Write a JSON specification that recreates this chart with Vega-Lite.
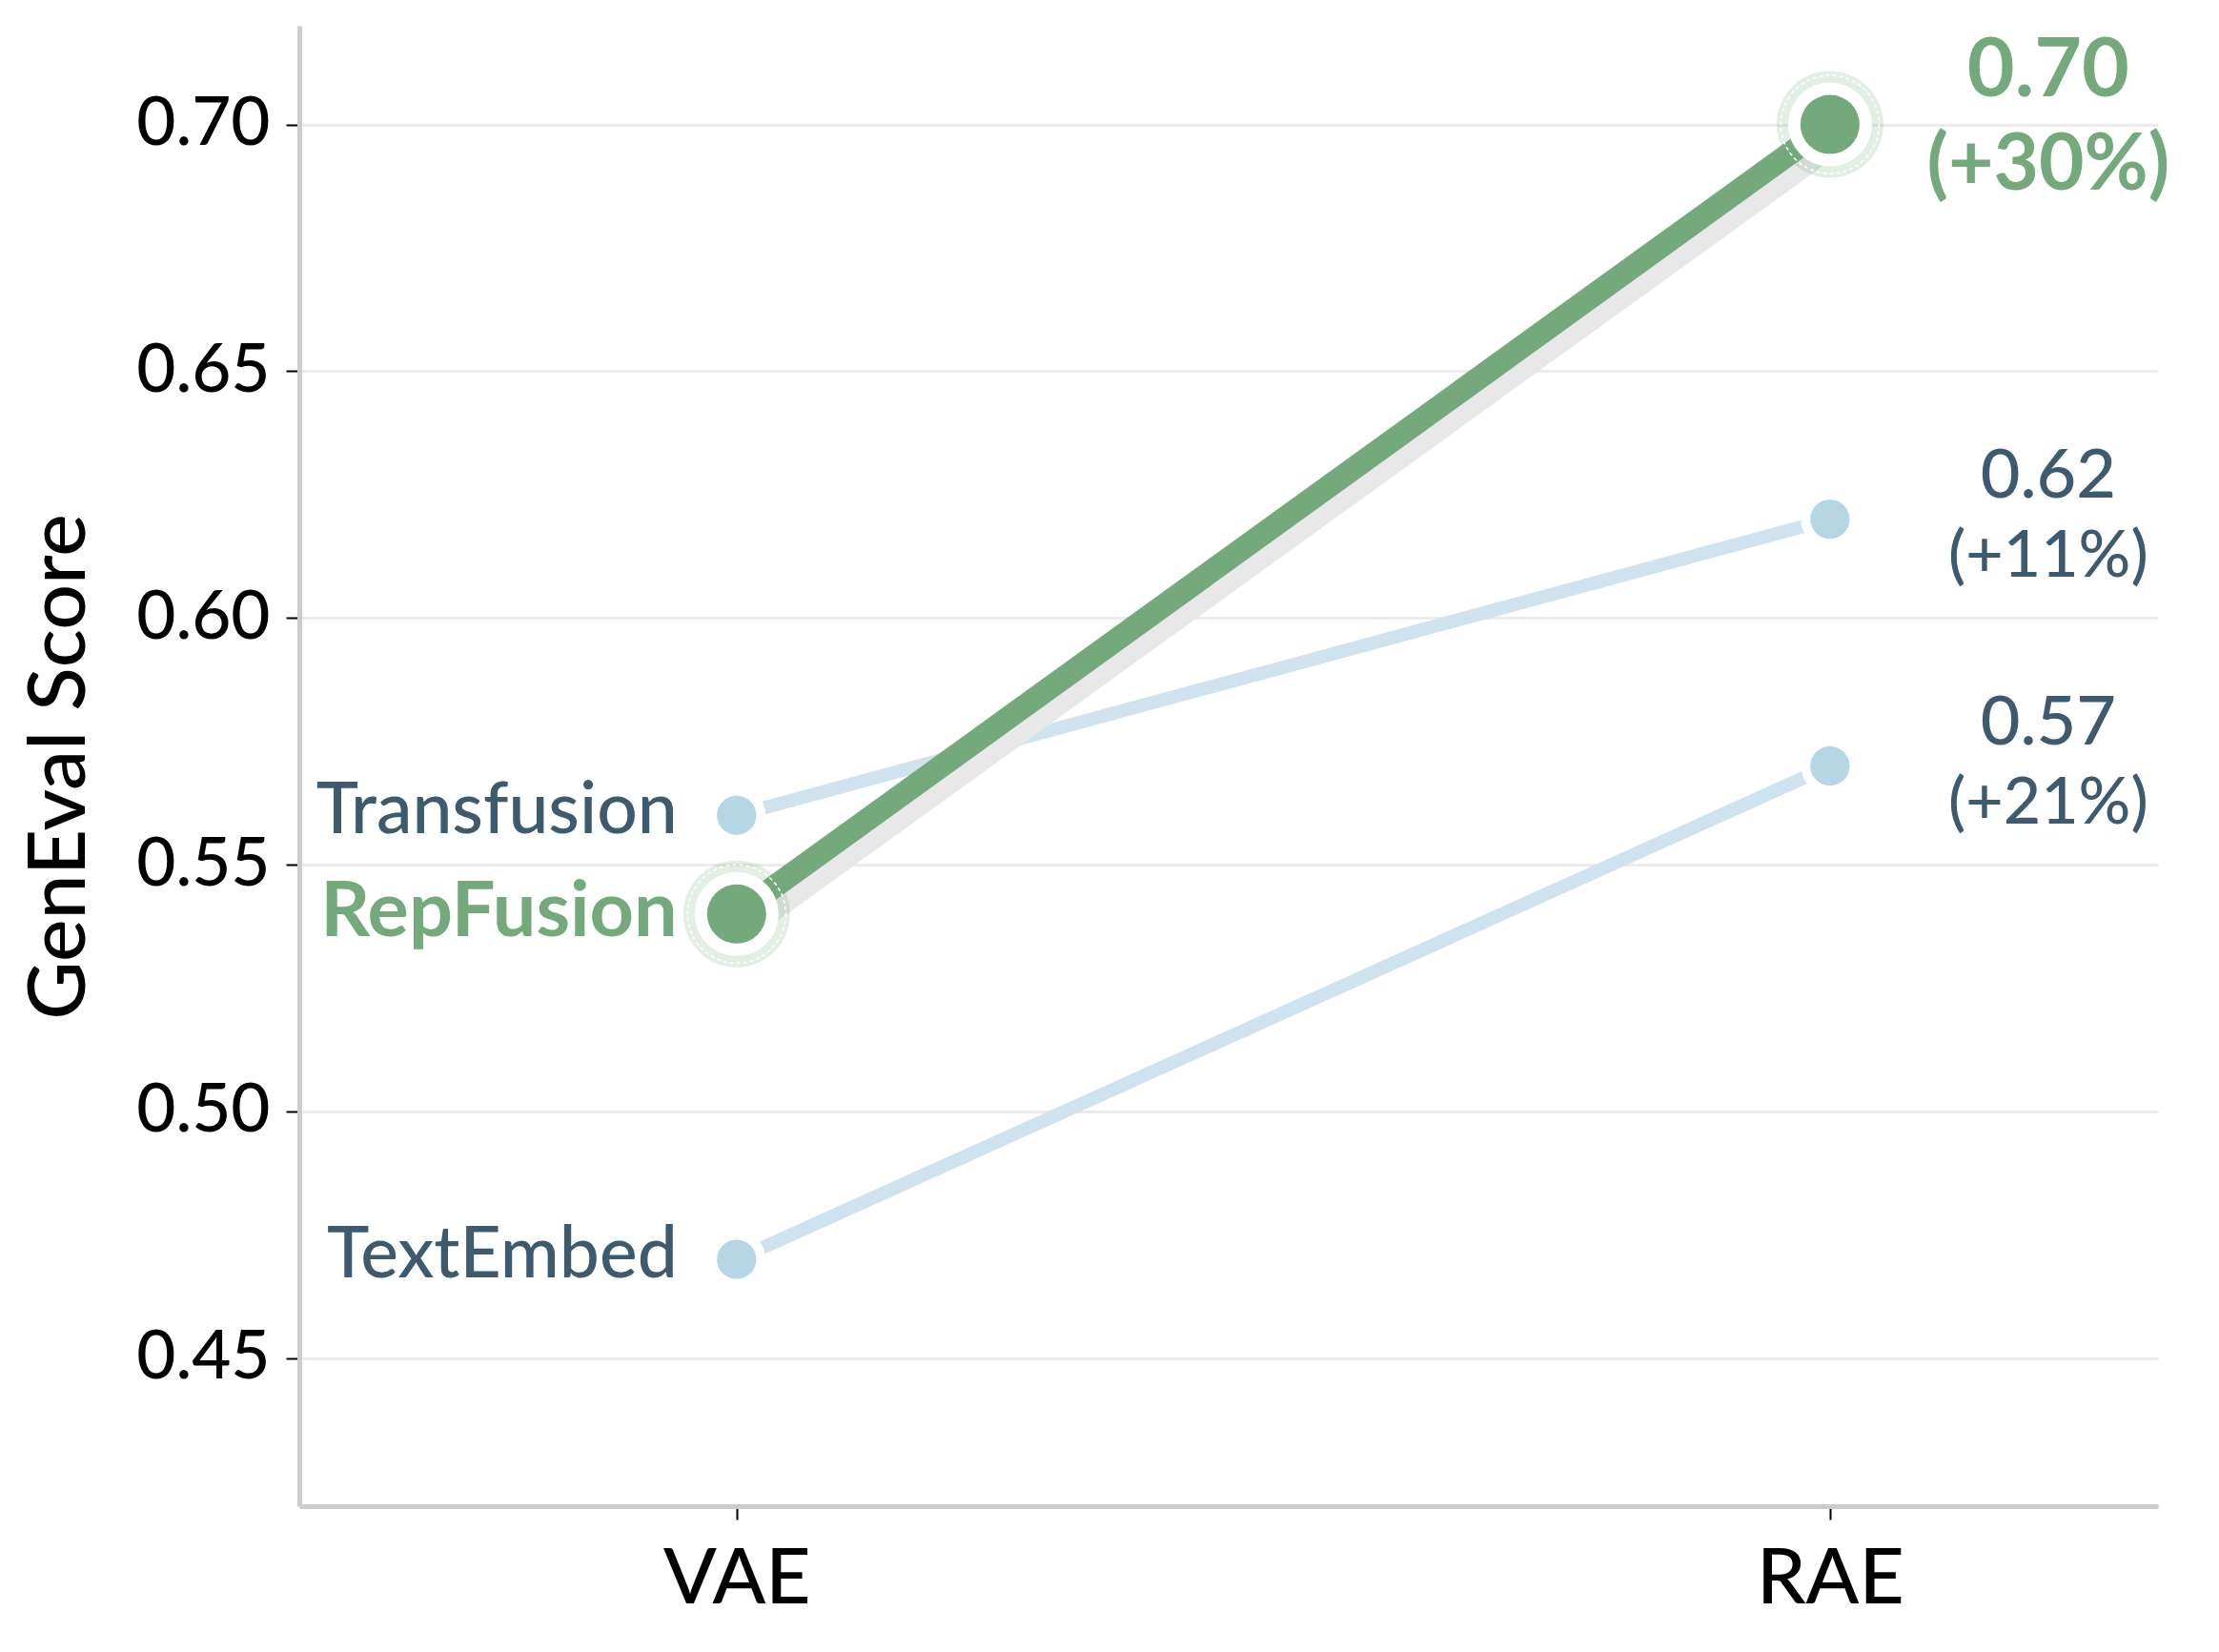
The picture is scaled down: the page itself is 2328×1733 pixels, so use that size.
{
  "$schema": "https://vega.github.io/schema/vega-lite/v6.json",
  "autosize": {"type": "none"},
  "padding": {"left": 314, "top": 27, "right": 64, "bottom": 153},
  "width": 1950,
  "height": 1553,
  "background": "white",
  "config": {
    "view": {"stroke": null},
    "font": "Lato",
    "axis": {
      "labelFont": "Lato",
      "titleFont": "Lato",
      "labelFontWeight": 500,
      "domainColor": "#cccccc",
      "domainWidth": 5,
      "tickColor": "#000000",
      "tickWidth": 2,
      "tickSize": 14,
      "labelColor": "#000000",
      "titleColor": "#000000"
    }
  },
  "data": {
    "values": [
      {"method": "Transfusion", "encoder": "VAE", "score": 0.56, "delta": ""},
      {"method": "Transfusion", "encoder": "RAE", "score": 0.62, "delta": "(+11%)"},
      {"method": "TextEmbed", "encoder": "VAE", "score": 0.47, "delta": ""},
      {"method": "TextEmbed", "encoder": "RAE", "score": 0.57, "delta": "(+21%)"},
      {"method": "RepFusion", "encoder": "VAE", "score": 0.54, "delta": ""},
      {"method": "RepFusion", "encoder": "RAE", "score": 0.70, "delta": "(+30%)"}
    ]
  },
  "encoding": {
    "x": {
      "field": "encoder",
      "type": "nominal",
      "sort": ["VAE", "RAE"],
      "scale": {"type": "point", "padding": 0.35, "align": 0.5714},
      "axis": {"title": null, "labelAngle": 0, "labelFontSize": 82, "labelPadding": 22, "grid": false}
    },
    "y": {
      "field": "score",
      "type": "quantitative",
      "scale": {"domain": [0.42, 0.72], "nice": false, "zero": false},
      "axis": {
        "values": [0.45, 0.5, 0.55, 0.6, 0.65, 0.7],
        "format": ".2f",
        "grid": true,
        "gridColor": "#ebebeb",
        "gridWidth": 3,
        "labelFontSize": 71,
        "labelPadding": 17,
        "title": "GenEval Score",
        "titleFontSize": 84,
        "titleFontWeight": 500,
        "titleAngle": -90,
        "titleBaseline": "alphabetic",
        "titleAlign": "center",
        "titleX": -226,
        "titleY": 777
      }
    }
  },
  "layer": [
    {
      "transform": [{"filter": "datum.method !== 'RepFusion'"}],
      "mark": {"type": "line", "color": "#cfe3ef", "strokeWidth": 14},
      "encoding": {"detail": {"field": "method"}}
    },
    {
      "transform": [{"filter": "datum.method === 'RepFusion'"}],
      "mark": {"type": "line", "color": "#e8e8e8", "strokeWidth": 24, "xOffset": 2, "yOffset": 22},
      "encoding": {}
    },
    {
      "transform": [{"filter": "datum.method === 'RepFusion'"}],
      "mark": {"type": "line", "color": "#74a97b", "strokeWidth": 24},
      "encoding": {}
    },
    {
      "transform": [{"filter": "datum.method !== 'RepFusion'"}],
      "mark": {"type": "point", "shape": "circle", "filled": true, "color": "white", "opacity": 1, "size": 3721},
      "encoding": {}
    },
    {
      "transform": [{"filter": "datum.method !== 'RepFusion'"}],
      "mark": {"type": "point", "shape": "circle", "filled": true, "color": "#b6d6e6", "opacity": 1, "size": 1706},
      "encoding": {}
    },
    {
      "transform": [{"filter": "datum.method === 'RepFusion'"}],
      "mark": {"type": "point", "shape": "circle", "filled": true, "color": "#74a97b", "opacity": 0.2, "size": 12544},
      "encoding": {}
    },
    {
      "transform": [{"filter": "datum.method === 'RepFusion'"}],
      "mark": {"type": "point", "shape": "circle", "filled": false, "stroke": "white", "strokeWidth": 1.5, "strokeDash": [4, 3], "opacity": 1, "size": 10609},
      "encoding": {}
    },
    {
      "transform": [{"filter": "datum.method === 'RepFusion'"}],
      "mark": {"type": "point", "shape": "circle", "filled": true, "color": "white", "opacity": 1, "size": 7744},
      "encoding": {}
    },
    {
      "transform": [{"filter": "datum.method === 'RepFusion'"}],
      "mark": {"type": "point", "shape": "circle", "filled": true, "color": "#74a97b", "opacity": 1, "size": 3844},
      "encoding": {}
    },
    {
      "transform": [{"filter": "datum.encoder === 'VAE' && datum.method !== 'RepFusion'"}],
      "mark": {"type": "text", "align": "right", "baseline": "alphabetic", "dx": -62, "dy": 19, "fontSize": 75, "fontWeight": 500, "color": "#3d5a6e", "font": "Lato"},
      "encoding": {"text": {"field": "method"}}
    },
    {
      "transform": [{"filter": "datum.encoder === 'VAE' && datum.method === 'RepFusion'"}],
      "mark": {"type": "text", "align": "right", "baseline": "alphabetic", "dx": -62, "dy": 23.5, "fontSize": 81, "fontWeight": "bold", "color": "#74a97b", "font": "Lato"},
      "encoding": {"text": {"field": "method"}}
    },
    {
      "transform": [{"filter": "datum.encoder === 'RAE' && datum.method !== 'RepFusion'"}],
      "mark": {"type": "text", "align": "center", "baseline": "alphabetic", "dx": 229, "dy": -23, "fontSize": 72, "fontWeight": 500, "color": "#3d5a6e", "font": "Lato"},
      "encoding": {"text": {"field": "score", "format": ".2f"}}
    },
    {
      "transform": [{"filter": "datum.encoder === 'RAE' && datum.method !== 'RepFusion'"}],
      "mark": {"type": "text", "align": "center", "baseline": "alphabetic", "dx": 229, "dy": 60, "fontSize": 68, "fontWeight": 500, "color": "#3d5a6e", "font": "Lato"},
      "encoding": {"text": {"field": "delta"}}
    },
    {
      "transform": [{"filter": "datum.encoder === 'RAE' && datum.method === 'RepFusion'"}],
      "mark": {"type": "text", "align": "center", "baseline": "alphabetic", "dx": 229, "dy": -30, "fontSize": 86, "fontWeight": "bold", "color": "#74a97b", "font": "Lato"},
      "encoding": {"text": {"field": "score", "format": ".2f"}}
    },
    {
      "transform": [{"filter": "datum.encoder === 'RAE' && datum.method === 'RepFusion'"}],
      "mark": {"type": "text", "align": "center", "baseline": "alphabetic", "dx": 229, "dy": 68, "fontSize": 82, "fontWeight": "bold", "color": "#74a97b", "font": "Lato"},
      "encoding": {"text": {"field": "delta"}}
    }
  ]
}
